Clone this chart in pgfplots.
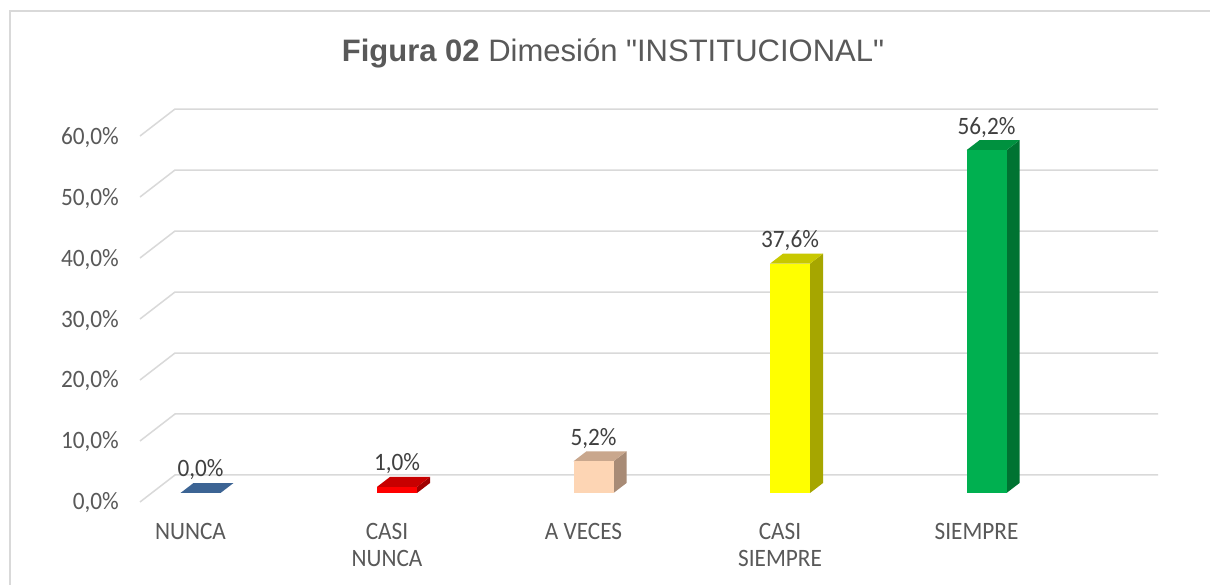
\documentclass[border=0pt]{standalone}
\usepackage{pgfplots}
\pgfplotsset{compat=1.18}
\usepackage{fontspec}
\setmainfont{Carlito}[FakeStretch=0.93]
\newfontfamily\titlefont{Liberation Sans}
\definecolor{gridc}{HTML}{D9D9D9}
\definecolor{txt}{HTML}{595959}
\definecolor{lbl}{HTML}{404040}
\definecolor{blueF}{HTML}{3C6494}
\definecolor{redF}{HTML}{FF0000}
\definecolor{redT}{HTML}{C80000}
\definecolor{redS}{HTML}{A00000}
\definecolor{peachF}{HTML}{FDD5B4}
\definecolor{peachT}{HTML}{C9A78D}
\definecolor{peachS}{HTML}{A88B76}
\definecolor{yelF}{HTML}{FFFF00}
\definecolor{yelT}{HTML}{C8C800}
\definecolor{yelS}{HTML}{A6A600}
\definecolor{grnF}{HTML}{00B050}
\definecolor{grnT}{HTML}{00913F}
\definecolor{grnS}{HTML}{007332}
\begin{document}
\begin{tikzpicture}
\useasboundingbox (0,0) rectangle (1210pt,585pt);
\fill[white] (0,0) rectangle (1210pt,585pt);
\draw[gridc, line width=1.5pt] (10pt,0pt) -- (10pt,574pt) -- (1210pt,574pt);
\node[text=txt, font=\titlefont\fontsize{31}{36}\selectfont, anchor=base] at (613pt,523pt) {\textbf{Figura 02} Dimesión "INSTITUCIONAL"};
\begin{axis}[
  at={(140pt,83pt)}, anchor=south west,
  scale only axis, width=1020pt, height=402pt,
  xmin=-0.3079, xmax=4.883, ymin=-1.475, ymax=64.43,
  clip=false,
  axis line style={draw=none},
  major tick length=0pt,
  ytick={-1.475,8.525,18.525,28.525,38.525,48.525,58.525},
  yticklabels={{0,0\%},{10,0\%},{20,0\%},{30,0\%},{40,0\%},{50,0\%},{60,0\%}},
  yticklabel style={anchor=base east, inner sep=0pt, xshift=-21pt, yshift=-8pt,
     text=txt, font=\fontsize{25}{27.4}\selectfont},
  xtick={0,1,2,3,4},
  xticklabels={NUNCA,{CASI\\NUNCA},A VECES,{CASI\\SIEMPRE},SIEMPRE},
  xticklabel style={anchor=north, align=center, inner sep=0pt, yshift=-21pt, xshift=-10pt,
     text=txt, font=\fontsize{25}{27.4}\selectfont},
  nodes near coords={\pgfmathprintnumber{\pgfplotspointmeta}\%},
  every node near coord/.append style={anchor=base, yshift=16pt, inner sep=0pt,
     text=lbl, font=\fontsize{25}{27.4}\selectfont},
  /pgf/number format/.cd, use comma, fixed, fixed zerofill, precision=1, assume math mode=true,
]
% gridlines (3D wall)
\addplot[gridc, line width=1.5pt, nodes near coords={}] coordinates {(-0.3079,-1.475)(-0.1298,2.951)(4.873,2.951)};
\addplot[gridc, line width=1.5pt, nodes near coords={}] coordinates {(-0.3079,8.525)(-0.1298,12.951)(4.873,12.951)};
\addplot[gridc, line width=1.5pt, nodes near coords={}] coordinates {(-0.3079,18.525)(-0.1298,22.951)(4.873,22.951)};
\addplot[gridc, line width=1.5pt, nodes near coords={}] coordinates {(-0.3079,28.525)(-0.1298,32.951)(4.873,32.951)};
\addplot[gridc, line width=1.5pt, nodes near coords={}] coordinates {(-0.3079,38.525)(-0.1298,42.951)(4.873,42.951)};
\addplot[gridc, line width=1.5pt, nodes near coords={}] coordinates {(-0.3079,48.525)(-0.1298,52.951)(4.873,52.951)};
\addplot[gridc, line width=1.5pt, nodes near coords={}] coordinates {(-0.3079,58.525)(-0.1298,62.951)(4.873,62.951)};
% NUNCA 0.0
\addplot[fill=blueF, draw=none, nodes near coords={}] coordinates {(-0.1018,0)(0.1018,0)(0.168,1.639)(-0.0356,1.639)};
\addplot[ybar, bar width=0.2036, bar shift=0pt, fill=blueF, draw=none] coordinates {(0,0.0)};
% CASI NUNCA 1.0
\addplot[fill=redS, draw=none, nodes near coords={}] coordinates {(1.1018,0)(1.168,1.639)(1.168,2.639)(1.1018,1.0)};
\addplot[fill=redT, draw=none, nodes near coords={}] coordinates {(0.8982,1.0)(1.1018,1.0)(1.168,2.639)(0.9644,2.639)};
\addplot[ybar, bar width=0.2036, bar shift=0pt, fill=redF, draw=none] coordinates {(1,1.0)};
% A VECES 5.2
\addplot[fill=peachS, draw=none, nodes near coords={}] coordinates {(2.1018,0)(2.168,1.639)(2.168,6.839)(2.1018,5.2)};
\addplot[fill=peachT, draw=none, nodes near coords={}] coordinates {(1.8982,5.2)(2.1018,5.2)(2.168,6.839)(1.9644,6.839)};
\addplot[ybar, bar width=0.2036, bar shift=0pt, fill=peachF, draw=none] coordinates {(2,5.2)};
% CASI SIEMPRE 37.6
\addplot[fill=yelS, draw=none, nodes near coords={}] coordinates {(3.1018,0)(3.168,1.639)(3.168,39.239)(3.1018,37.6)};
\addplot[fill=yelT, draw=none, nodes near coords={}] coordinates {(2.8982,37.6)(3.1018,37.6)(3.168,39.239)(2.9644,39.239)};
\addplot[ybar, bar width=0.2036, bar shift=0pt, fill=yelF, draw=none] coordinates {(3,37.6)};
% SIEMPRE 56.2
\addplot[fill=grnS, draw=none, nodes near coords={}] coordinates {(4.1018,0)(4.168,1.639)(4.168,57.839)(4.1018,56.2)};
\addplot[fill=grnT, draw=none, nodes near coords={}] coordinates {(3.8982,56.2)(4.1018,56.2)(4.168,57.839)(3.9644,57.839)};
\addplot[ybar, bar width=0.2036, bar shift=0pt, fill=grnF, draw=none] coordinates {(4,56.2)};
\end{axis}
\end{tikzpicture}
\end{document}
